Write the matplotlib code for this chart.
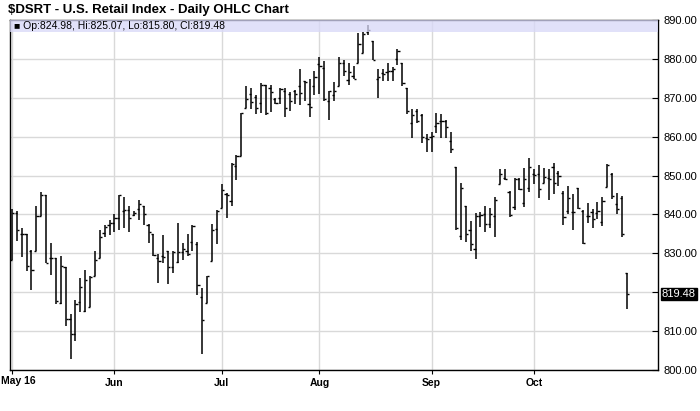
import matplotlib

matplotlib.use("Agg")
import matplotlib.pyplot as plt
import numpy as np

# daily OHLC, May 2 - Oct 28 (trading days)
opens = [828.4, 840.4, 835.0, 834.9, 830.7, 830.6, 839.5, 844.9, 828.9, 828.8,
         817.2, 826.6, 813.2, 809.2, 817.5, 815.1, 816.3, 824.1, 828.9, 835.3,
         837.2, 837.8, 839.1, 841.0, 841.2, 839.9, 841.5, 842.1, 837.2, 835.0,
         828.9, 829.2, 830.5, 826.6, 827.7, 830.3, 830.5, 832.9, 832.5, 818.7,
         817.2, 828.0, 836.3, 841.6, 845.3, 843.5, 852.5, 855.0, 867.4, 871.1,
         870.3, 868.7, 873.2, 872.5, 869.8, 870.0, 871.7, 871.1, 871.7, 873.0,
         874.2, 868.3, 873.0, 878.7, 877.7, 869.3, 870.6, 873.0, 879.0, 874.5,
         875.7, 879.0, 881.4, 886.8, 884.5, 874.9, 876.5, 876.6, 876.8, 880.0,
         879.0, 872.4, 863.5, 866.5, 865.5, 859.7, 860.0, 862.7, 864.0, 864.0,
         858.9, 852.3, 834.5, 842.3, 836.0, 831.0, 839.6, 840.0, 837.5, 839.6,
         847.9, 849.5, 845.8, 841.9, 849.0, 843.0, 846.9, 850.3, 850.3, 848.2,
         849.5, 852.3, 850.6, 845.5, 840.9, 840.6, 846.9, 840.9, 839.6, 840.6,
         840.5, 838.0, 847.1, 850.5, 842.6, 844.3, 824.98]
highs = [841.5, 841.0, 836.5, 835.0, 830.8, 842.3, 845.9, 844.9, 832.6, 828.8,
         829.2, 826.6, 814.5, 818.1, 823.6, 825.8, 824.1, 830.6, 835.9, 837.3,
         838.5, 840.2, 845.1, 844.5, 842.2, 840.8, 843.8, 842.1, 837.5, 835.0,
         829.9, 834.8, 830.7, 830.5, 837.9, 832.6, 835.0, 837.2, 832.9, 821.1,
         824.3, 837.6, 841.2, 847.9, 845.5, 853.2, 855.2, 866.2, 873.0, 872.6,
         870.6, 873.7, 873.4, 873.2, 870.0, 872.6, 872.4, 871.5, 871.9, 877.3,
         874.3, 874.7, 876.8, 880.5, 879.4, 871.7, 874.0, 880.5, 879.8, 879.0,
         878.3, 886.7, 886.8, 888.8, 884.5, 877.4, 877.4, 879.0, 877.9, 882.6,
         879.0, 872.4, 867.0, 867.0, 865.9, 860.8, 861.2, 866.0, 865.9, 864.4,
         861.2, 852.3, 848.2, 842.3, 838.3, 840.5, 840.6, 842.3, 841.7, 844.6,
         851.6, 851.6, 846.0, 849.5, 849.5, 852.0, 854.6, 851.8, 852.6, 852.0,
         851.8, 853.3, 851.2, 846.0, 847.3, 845.2, 846.9, 841.1, 842.9, 841.3,
         843.2, 844.6, 853.0, 850.7, 845.6, 844.7, 825.07]
lows = [828.3, 833.1, 829.0, 825.4, 820.7, 830.6, 839.5, 827.6, 824.5, 817.0,
        817.0, 811.3, 802.9, 807.4, 814.9, 814.9, 816.3, 824.1, 828.9, 834.3,
        834.8, 835.5, 836.1, 836.4, 835.6, 839.6, 838.6, 837.4, 832.7, 829.3,
        822.3, 827.6, 822.2, 824.9, 827.6, 828.4, 829.2, 830.6, 819.2, 804.2,
        817.2, 828.0, 832.5, 841.6, 839.1, 842.2, 848.9, 855.0, 867.4, 867.0,
        865.7, 866.2, 865.6, 866.3, 868.5, 868.5, 865.1, 866.6, 868.3, 868.1,
        869.1, 865.1, 870.6, 870.9, 869.1, 864.4, 869.1, 873.0, 875.6, 873.4,
        874.9, 879.0, 881.4, 886.2, 879.8, 870.0, 874.4, 874.3, 874.3, 878.5,
        873.0, 865.9, 859.7, 863.6, 858.4, 856.0, 856.0, 861.0, 859.7, 859.7,
        855.7, 836.0, 833.4, 832.9, 830.6, 828.5, 836.8, 835.5, 836.4, 834.3,
        847.7, 848.9, 839.4, 841.1, 846.2, 842.0, 845.8, 847.7, 844.3, 848.2,
        843.7, 845.2, 847.3, 837.3, 840.0, 836.0, 841.5, 832.3, 837.7, 836.4,
        838.8, 837.0, 847.1, 844.1, 840.0, 834.3, 815.80]
closes = [840.4, 836.1, 835.0, 826.8, 825.6, 839.5, 845.1, 827.6, 828.9, 817.7,
          826.8, 813.2, 809.3, 817.0, 821.3, 823.2, 823.9, 828.4, 834.2, 836.7,
          837.8, 839.1, 844.9, 841.2, 839.0, 840.4, 842.7, 840.0, 835.5, 829.5,
          828.0, 829.0, 826.6, 830.3, 830.3, 831.0, 829.9, 837.0, 821.9, 812.8,
          824.1, 835.9, 841.0, 846.2, 845.0, 852.9, 855.0, 866.0, 869.8, 868.9,
          867.4, 873.2, 866.2, 871.5, 868.7, 872.3, 867.4, 869.1, 870.9, 871.3,
          874.0, 867.7, 875.4, 878.1, 869.7, 871.7, 871.7, 879.0, 876.8, 876.6,
          874.9, 883.7, 886.5, 887.4, 879.8, 875.4, 876.0, 877.0, 877.4, 882.1,
          873.8, 866.7, 865.5, 864.0, 860.0, 859.5, 860.2, 863.6, 864.0, 862.6,
          856.9, 836.6, 846.7, 834.9, 832.3, 839.6, 839.8, 837.5, 840.0, 843.7,
          850.3, 849.0, 839.8, 849.0, 846.6, 849.0, 852.3, 850.1, 846.5, 849.7,
          849.0, 848.0, 849.9, 839.4, 844.3, 840.7, 841.7, 832.6, 839.6, 838.9,
          840.9, 843.5, 852.6, 844.8, 841.5, 834.9, 819.48]

# first trading day of each month (index into the bars)
month_idx = [0, 21, 43, 63, 86, 107]
month_labels = ["May 16", "Jun", "Jul", "Aug", "Sep", "Oct"]
y_ticks = [800, 810, 820, 830, 840, 850, 860, 870, 880, 890]

x = np.arange(len(closes))

fig = plt.figure(figsize=(7, 4.11), dpi=100)
ax = fig.add_axes([10 / 700, 1 - 370 / 411, 648 / 700, 350 / 411])

ax.vlines(x, lows, highs, color="black", lw=1.1, zorder=3)
ax.hlines(opens, x - 0.45, x, color="black", lw=1.0, zorder=3)
ax.hlines(closes, x, x + 0.45, color="black", lw=1.0, zorder=3)

ax.set_xlim(-0.4, 132.4)
ax.set_ylim(800, 890)

# first month label drawn separately so it stays inside the figure
ax.set_xticks(month_idx)
ax.set_xticklabels([""] + month_labels[1:], fontsize=7.5, fontweight="bold",
                   family="Liberation Sans")
fig.text(1 / 700, 1 - 381 / 411, month_labels[0], fontsize=7.5, fontweight="bold",
         family="Liberation Sans", ha="left", va="center")

ax.set_yticks(y_ticks)
ax.set_yticklabels(["" if v == 820 else f"{v:.2f}" for v in y_ticks],
                   fontsize=8, family="Liberation Sans")
ax.yaxis.tick_right()
ax.tick_params(axis="y", direction="in", length=4, pad=4)
ax.tick_params(axis="x", direction="out", length=3, pad=3)
ax.grid(True, color="#d9d9d9", lw=1.0, zorder=0)
for s in ax.spines.values():
    s.set_linewidth(1.0)

# header band with last-bar values
ax.axhspan(886.8, 890, color="#d8d8f8", alpha=0.75, lw=0, zorder=4)
ax.text(0.006, 0.982, "\u25a0 Op:824.98, Hi:825.07, Lo:815.80, Cl:819.48",
        transform=ax.transAxes, fontsize=7.5, va="center", ha="left",
        family="Liberation Sans", zorder=5)

# last close marker on the right axis
ax.text(1.006, closes[-1], f"{closes[-1]:.2f}", transform=ax.get_yaxis_transform(),
        fontsize=8, color="white", va="center", ha="left", family="Liberation Sans",
        bbox=dict(boxstyle="square,pad=0.1", fc="black", ec="black"))

fig.text(8 / 700, 1 - 10 / 411, "\\$DSRT - U.S. Retail Index - Daily OHLC Chart",
         fontsize=9.5, fontweight="bold", va="center", ha="left",
         family="Liberation Sans")

fig.savefig("out.png", dpi=100)
